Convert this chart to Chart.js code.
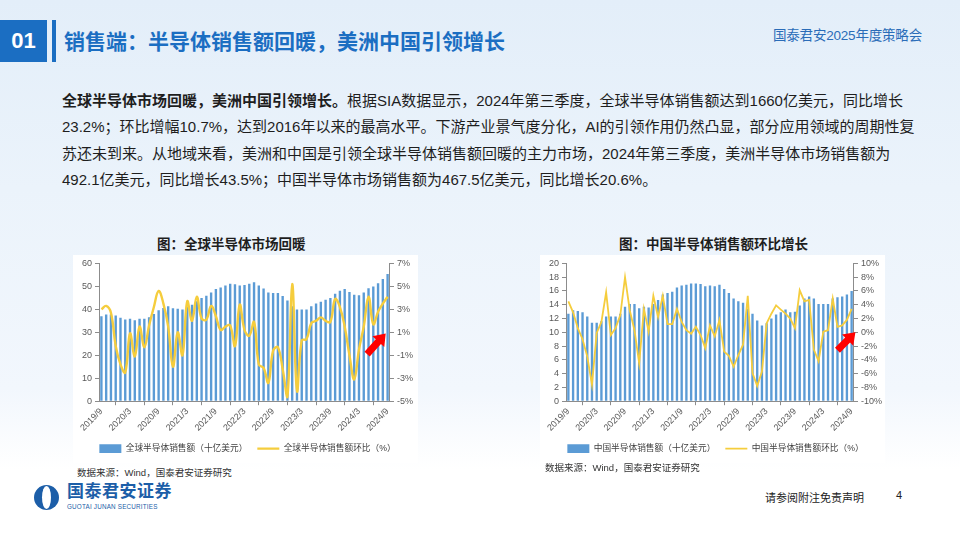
<!DOCTYPE html>
<html>
<head>
<meta charset="utf-8">
<script src="https://cdn.jsdelivr.net/npm/chart.js@4.4.0/dist/chart.umd.min.js"></script>
<style>
  body {
    margin: 0;
    width: 960px;
    height: 540px;
    overflow: hidden;
    position: relative;
    font-family: "Liberation Sans", "Noto Sans CJK SC", sans-serif;
    background: linear-gradient(180deg, #e3eef9 0%, #ebf3fb 35%, #f2f7fd 72%, #ffffff 87%);
  }
  .num-box {
    position: absolute; left: 0; top: 20px; width: 47px; height: 42px;
    background: #1b6ec2; color: #fff; font-weight: bold; font-size: 22px;
    line-height: 42px; text-align: center;
  }
  .bar { position: absolute; left: 52px; top: 20px; width: 4px; height: 42px; background: #1b6ec2; }
  .title {
    position: absolute; left: 64px; top: 27px; font-size: 21px; font-weight: bold;
    color: #1b6ec2; line-height: 30px; white-space: nowrap;
  }
  .brand { position: absolute; left: 773px; top: 24px; font-size: 13.5px; color: #2a6cb8; letter-spacing: -0.2px; white-space: nowrap; }
  .para {
    position: absolute; left: 62px; top: 88px; font-size: 15px; line-height: 26.4px;
    color: #1e1e1e; white-space: nowrap;
  }
  .para b { font-weight: bold; }
  .ctitle { position: absolute; top: 233px; font-size: 13.5px; font-weight: bold; color: #1e1e1e; white-space: nowrap; }
  .box { position: absolute; top: 255px; width: 345px; height: 208px; background: #fff; }
  .src { position: absolute; font-size: 9.5px; color: #333; white-space: nowrap; }
  .logo { position: absolute; left: 34px; top: 485px; width: 25px; height: 25px; border-radius: 50%; background: #1c5ea8; overflow: hidden; }
  .logo::after { content: ""; position: absolute; left: 8px; top: 1px; width: 9px; height: 23px; border-radius: 50%; background: #fff; }
  .logo-cn { position: absolute; left: 67px; top: 482px; font-size: 17px; line-height: 20px; font-weight: bold; color: #1c5ea8; letter-spacing: 0.5px; white-space: nowrap; }
  .logo-en { position: absolute; left: 67px; top: 503px; font-size: 6.3px; line-height: 8px; color: #1c5ea8; white-space: nowrap; letter-spacing: 0.2px; }
  .disc { position: absolute; left: 765px; top: 489px; font-size: 11px; color: #222; white-space: nowrap; }
  .page { position: absolute; left: 896px; top: 489px; font-size: 11px; color: #222; }
</style>
</head>
<body>
<div class="num-box">01</div>
<div class="bar"></div>
<div class="title">销售端：半导体销售额回暖，美洲中国引领增长</div>
<div class="brand">国泰君安2025年度策略会</div>

<div class="para">
<b>全球半导体市场回暖，美洲中国引领增长。</b>根据SIA数据显示，2024年第三季度，全球半导体销售额达到1660亿美元，同比增长<br>
23.2%；环比增幅10.7%，达到2016年以来的最高水平。下游产业景气度分化，AI的引领作用仍然凸显，部分应用领域的周期性复<br>
苏还未到来。从地域来看，美洲和中国是引领全球半导体销售额回暖的主力市场，2024年第三季度，美洲半导体市场销售额为<br>
492.1亿美元，同比增长43.5%；中国半导体市场销售额为467.5亿美元，同比增长20.6%。
</div>

<div class="ctitle" style="left:157px">图：全球半导体市场回暖</div>
<div class="ctitle" style="left:619px">图：中国半导体销售额环比增长</div>

<div class="box" style="left:73px"><canvas id="globalChart"></canvas></div>
<div class="box" style="left:540px"><canvas id="chinaChart"></canvas></div>

<div class="src" style="left:77px; top:465px">数据来源：Wind，国泰君安证券研究</div>
<div class="src" style="left:545px; top:460px">数据来源：Wind，国泰君安证券研究</div>

<div class="logo"></div>
<div class="logo-cn">国泰君安证券</div>
<div class="logo-en">GUOTAI JUNAN SECURITIES</div>
<div class="disc">请参阅附注免责声明</div>
<div class="page">4</div>

<script>
// months 2019/9 .. 2024/9
const months = [
  '2019/9','2019/10','2019/11','2019/12',
  '2020/1','2020/2','2020/3','2020/4','2020/5','2020/6','2020/7','2020/8','2020/9','2020/10','2020/11','2020/12',
  '2021/1','2021/2','2021/3','2021/4','2021/5','2021/6','2021/7','2021/8','2021/9','2021/10','2021/11','2021/12',
  '2022/1','2022/2','2022/3','2022/4','2022/5','2022/6','2022/7','2022/8','2022/9','2022/10','2022/11','2022/12',
  '2023/1','2023/2','2023/3','2023/4','2023/5','2023/6','2023/7','2023/8','2023/9','2023/10','2023/11','2023/12',
  '2024/1','2024/2','2024/3','2024/4','2024/5','2024/6','2024/7','2024/8','2024/9'
];
const shownLabels = ['2019/9','2020/3','2020/9','2021/3','2021/9','2022/3','2022/9','2023/3','2023/9','2024/3','2024/9'];

// global sales, billion USD
const globalSales = [
  37.0,37.7,37.7,37.3,36.3,35.6,35.9,35.3,35.9,35.9,36.6,38.0,
  39.6,40.6,41.3,40.5,40.2,39.9,41.0,42.0,43.5,44.9,45.9,47.3,
  48.8,49.5,50.4,51.1,50.9,50.4,50.6,51.1,51.8,50.4,49.1,47.3,
  47.1,47.1,45.8,43.8,41.3,39.9,39.9,39.9,41.3,42.5,43.3,44.2,
  44.9,46.8,48.1,48.8,47.6,46.3,46.1,47.3,49.2,49.9,51.4,53.2,55.4
];
// global sales month on month, %
const globalMoM = [
  3.0,3.3,2.7,-0.2,-1.8,-2.5,0.9,-1.1,1.5,-0.3,1.6,3.2,
  4.6,3.5,1.5,-2.0,1.0,-1.0,3.7,2.0,4.1,2.2,2.1,3.3,
  2.4,1.2,1.5,1.6,-0.2,3.4,1.2,0.7,1.9,-1.8,-2.1,-3.4,
  -0.6,-0.3,-2.2,-4.6,5.2,-4.1,0.3,0.4,1.8,2.0,2.3,2.0,
  1.9,3.9,3.2,1.5,-1.0,-3.1,-0.5,1.5,4.1,1.7,2.8,3.5,4.1
];
// china sales, billion USD
const chinaSales = [
  12.7,13.2,13.1,12.9,12.3,11.4,11.4,11.6,12.3,12.3,12.3,12.7,
  13.7,14.1,14.1,13.5,13.7,13.6,14.1,14.7,15.5,15.7,15.9,16.5,
  16.8,16.9,17.1,17.1,17.0,16.7,16.8,16.7,16.9,16.3,15.7,14.9,
  14.5,14.3,13.4,12.7,11.7,11.0,11.3,12.0,12.6,12.9,13.3,12.9,
  13.0,13.9,14.9,15.2,14.9,14.1,14.1,14.1,14.9,15.1,15.2,15.5,16.0
];
// china sales month on month, %
const chinaMoM = [
  4.5,2.9,0.6,-1.0,-3.5,-7.6,-0.1,1.5,5.8,-0.4,0.6,2.5,
  8.0,3.2,0.3,-4.5,3.4,0.1,5.3,2.2,5.3,1.2,1.2,3.4,
  1.5,0.3,-0.2,0.8,-0.4,-2.3,1.0,-0.6,1.8,-2.8,-3.4,-5.0,
  -3.3,-1.8,5.3,-5.9,-7.8,-5.7,1.3,2.7,3.9,3.3,2.7,2.0,
  0.6,6.1,4.5,4.7,-2.5,-4.2,0.1,0.3,4.9,0.8,1.0,1.8,3.4
];

Chart.defaults.font.family = '"Liberation Sans", "Noto Sans CJK SC", sans-serif';
Chart.defaults.color = '#595959';

const barBlue = '#5b9bd5';
const lineYellow = '#f5cd3d';
const axisGray = '#8c8c8c';

// red arrow, ends given in category index / right-axis units
const arrowPlugin = {
  id: 'redArrow',
  afterDatasetsDraw(chart, args, opts) {
    const x = chart.scales.x, y = chart.scales.y1;
    const x0 = x.getPixelForValue(opts.from[0]), y0 = y.getPixelForValue(opts.from[1]);
    const x1 = x.getPixelForValue(opts.to[0]), y1 = y.getPixelForValue(opts.to[1]);
    const ang = Math.atan2(y1 - y0, x1 - x0);
    const len = Math.hypot(x1 - x0, y1 - y0);
    const ctx = chart.ctx;
    ctx.save();
    ctx.translate(x0, y0);
    ctx.rotate(ang);
    const sw = 3.5, hw = 8, hl = 11;
    ctx.beginPath();
    ctx.moveTo(0, -sw);
    ctx.lineTo(len - hl, -sw);
    ctx.lineTo(len - hl, -hw);
    ctx.lineTo(len, 0);
    ctx.lineTo(len - hl, hw);
    ctx.lineTo(len - hl, sw);
    ctx.lineTo(0, sw);
    ctx.closePath();
    ctx.fillStyle = '#ff0000';
    ctx.fill();
    ctx.restore();
  }
};

function makeChart(id, opt) {
  const ctx = document.getElementById(id).getContext('2d');
  return new Chart(ctx, {
    type: 'bar',
    plugins: [arrowPlugin],
    data: {
      labels: months,
      datasets: [
        {
          type: 'bar',
          label: opt.barLabel,
          data: opt.bars,
          backgroundColor: barBlue,
          borderWidth: 0,
          barPercentage: 0.5,
          categoryPercentage: 1,
          yAxisID: 'y',
          order: 2,
          pointStyle: 'rect',
        },
        {
          type: 'line',
          label: opt.lineLabel,
          data: opt.line,
          borderColor: lineYellow,
          backgroundColor: lineYellow,
          borderWidth: opt.lineWidth,
          pointRadius: 0,
          tension: opt.tension,
          yAxisID: 'y1',
          order: 1,
          pointStyle: 'line',
        },
      ],
    },
    options: {
      responsive: true,
      maintainAspectRatio: false,
      animation: false,
      layout: { padding: { left: 6, right: opt.padRight, top: 4, bottom: 0 } },
      plugins: {
        tooltip: { enabled: false },
        legend: {
          position: 'bottom',
          labels: {
            sort: (a, b) => a.datasetIndex - b.datasetIndex,
            usePointStyle: true,
            pointStyleWidth: 22,
            boxHeight: 9,
            padding: 10,
            color: '#404040',
            font: { size: 8.7 },
          },
        },
        redArrow: { from: opt.arrowFrom, to: opt.arrowTo },
      },
      scales: {
        x: {
          offset: true,
          grid: { display: true, drawOnChartArea: false, offset: true, tickLength: 4, color: axisGray },
          border: { color: axisGray },
          ticks: {
            autoSkip: false,
            maxRotation: 45,
            minRotation: 45,
            padding: 1,
            font: { size: 9 },
            callback: (v, i) => (shownLabels.includes(months[i]) ? months[i] : null),
          },
        },
        y: {
          position: 'left',
          min: opt.yMin,
          max: opt.yMax,
          grid: { drawOnChartArea: false, tickLength: 4, color: axisGray },
          border: { color: axisGray },
          ticks: { stepSize: opt.yStep, autoSkip: false, font: { size: 9 }, padding: 3 },
        },
        y1: {
          position: 'right',
          min: opt.y1Min,
          max: opt.y1Max,
          grid: { drawOnChartArea: false, tickLength: 4, color: axisGray },
          border: { color: axisGray },
          ticks: { stepSize: 2, autoSkip: false, font: { size: 9 }, padding: 3, callback: (v) => v + '%' },
        },
      },
    },
  });
}

makeChart('globalChart', {
  bars: globalSales,
  line: globalMoM,
  barLabel: '全球半导体销售额（十亿美元）',
  lineLabel: '全球半导体销售额环比（%）',
  yMin: 0, yMax: 60, yStep: 10,
  y1Min: -5, y1Max: 7,
  tension: 0.4,
  lineWidth: 2.4,
  padRight: 2,
  arrowFrom: [55.7, -0.9],
  arrowTo: [59.6, 0.9],
});

makeChart('chinaChart', {
  bars: chinaSales,
  line: chinaMoM,
  barLabel: '中国半导体销售额（十亿美元）',
  lineLabel: '中国半导体销售额环比（%）',
  yMin: 0, yMax: 20, yStep: 2,
  y1Min: -10, y1Max: 10,
  tension: 0,
  lineWidth: 1.8,
  padRight: 0,
  arrowFrom: [57, -2.6],
  arrowTo: [60.8, 0],
});
</script>
</body>
</html>
